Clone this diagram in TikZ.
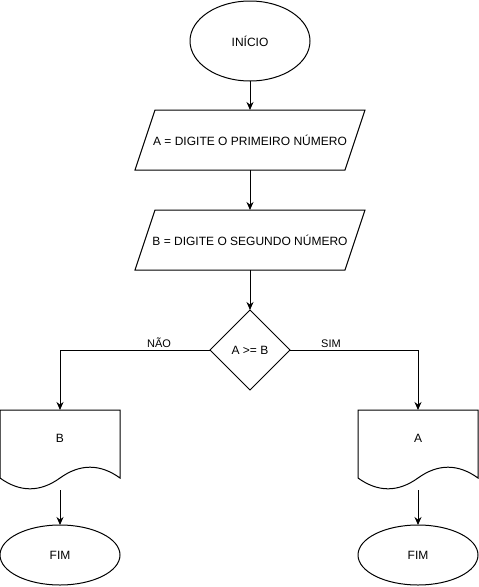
\documentclass[tikz,border=0pt]{standalone}
\usepackage{fontspec}
\setmainfont{Liberation Sans}
\usetikzlibrary{positioning,shapes.geometric,arrows.meta}

\tikzset{
    terminal/.style={draw, ellipse, line width=1pt, minimum width=120pt, inner sep=0pt, outer sep=0pt},
    entrada/.style={minimum width=210pt, minimum height=60pt, inner sep=0pt, outer sep=0pt},
    decisao/.style={draw, diamond, aspect=1, line width=1pt, minimum width=80pt, minimum height=80pt,
        inner sep=0pt, outer sep=0pt},
    saida/.style={minimum width=120pt, minimum height=56pt, inner sep=0pt, outer sep=0pt},
    seta/.style={line width=1pt, -{Stealth[length=8pt,width=7pt]}},
    rotulo/.style={font=\fontsize{11}{13}\selectfont, inner sep=2pt},
}

\newcommand{\iooutline}[1]{%
    \draw[line width=1pt] ([xshift=10pt]#1.north west) -- ([xshift=10pt]#1.north east)
        -- ([xshift=-10pt]#1.south east) -- ([xshift=-10pt]#1.south west) -- cycle;%
}

\newcommand{\docoutline}[1]{%
    \draw[line width=1pt] (#1.north west) -- (#1.north east)
        -- ([shift={(0pt,-68pt)}]#1.north east)
        .. controls ([shift={(-20pt,-53.6pt)}]#1.north east) and ([shift={(-40pt,-53.6pt)}]#1.north east)
        .. ([shift={(60pt,-68pt)}]#1.north west)
        .. controls ([shift={(40pt,-82.4pt)}]#1.north west) and ([shift={(20pt,-82.4pt)}]#1.north west)
        .. ([shift={(0pt,-68pt)}]#1.north west) -- cycle;
    \coordinate (#1-base) at ([yshift=-80pt]#1.north);%
}

\begin{document}
\begin{tikzpicture}[x=1pt, y=-1pt, font=\fontsize{12}{14}\selectfont]
            \useasboundingbox (0,0) rectangle (479,587);

            \node[terminal, minimum height=80pt] (inicio) at (250,41) {INÍCIO};
            \node[entrada, below=29pt of inicio] (lerA) {A = DIGITE O PRIMEIRO NÚMERO};
            \node[entrada, below=40pt of lerA] (lerB) {B = DIGITE O SEGUNDO NÚMERO};
            \node[decisao, below=40pt of lerB] (teste) {A >= B};
            \iooutline{lerA}
            \iooutline{lerB}

            \node[saida] (mostraB) at (60,438) {B};
            \node[saida] (mostraA) at (418,438) {A};
            \docoutline{mostraB}
            \docoutline{mostraA}

            \node[terminal, minimum height=60pt, below=35pt of mostraB-base] (fimB) {FIM};
            \node[terminal, minimum height=60pt, below=35pt of mostraA-base] (fimA) {FIM};

            \draw[seta] (inicio) -- (lerA);
            \draw[seta] (lerA) -- (lerB);
            \draw[seta] (lerB) -- (teste);
            \draw[seta] (teste.west) -| node[rotulo, pos=0.17, above] {NÃO} (mostraB.north);
            \draw[seta] (teste.east) -| node[rotulo, pos=0.16, above] {SIM} (mostraA.north);
            \draw[seta] (mostraB-base) -- (fimB);
            \draw[seta] (mostraA-base) -- (fimA);
        \end{tikzpicture}
\end{document}
